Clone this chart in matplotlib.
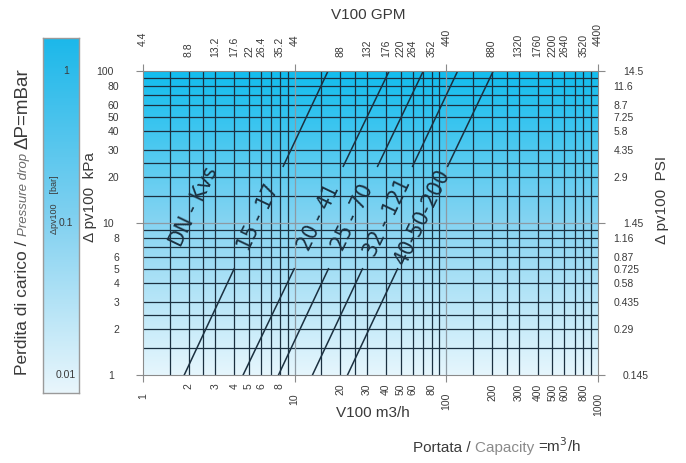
import numpy as np
import matplotlib.pyplot as plt
from matplotlib.colors import LinearSegmentedColormap

plt.rcParams['font.family'] = ['Liberation Sans', 'DejaVu Sans']

# assi: portata m3/h (basso) e GPM (alto)
portata_m3h = [1, 2, 3, 4, 5, 6, 8, 10, 20, 30, 40, 50, 60, 80, 100,
               200, 300, 400, 500, 600, 800, 1000]
portata_gpm = ['4.4', '8.8', '13.2', '17.6', '22', '26.4', '35.2', '44', '88', '132',
               '176', '220', '264', '352', '440', '880', '1320', '1760', '2200',
               '2640', '3520', '4400']
# perdita di carico kPa (sinistra) e PSI (destra)
dp_kpa = [1, 2, 3, 4, 5, 6, 8, 10, 20, 30, 40, 50, 60, 80, 100]
dp_psi = ['0.145', '0.29', '0.435', '0.58', '0.725', '0.87', '1.16', '1.45', '2.9',
          '4.35', '5.8', '7.25', '8.7', '11.6', '14.5']
dp_bar = [1, 0.1, 0.01]
bar_labels = ['1', '0.1', '0.01']
grid_steps = [1.5, 2, 2.5, 3, 4, 5, 6, 7, 8, 9]

# rette DN - Kvs (interrotte dove c'e' l'etichetta)
kvs_labels = ['15 - 17', '20 - 41', '25 - 70', '32 - 121', '40-50-200']
q_start = [1.87, 4.57, 7.82, 13.1, 22.3]      # m3/h a 1 kPa
q_gap_lo = [3.99, 9.93, 16.7, 28.0, 47.7]     # m3/h a 5 kPa
q_gap_hi = [8.4, 20.9, 35.2, 59.9, 102]       # m3/h a 23.6 kPa
q_end = [16.6, 42.0, 70.5, 118.8, 204]        # m3/h a 100 kPa
dp_start, dp_gap_lo, dp_gap_hi, dp_end = 1, 5.0, 23.6, 100

W, H = 686, 463
fig = plt.figure(figsize=(W / 100, H / 100), dpi=100)


def px_box(x0, y0, x1, y1):
    return [x0 / W, 1 - y1 / H, (x1 - x0) / W, (y1 - y0) / H]


line_col = '#1b3040'
txt_col = '#3a3a3a'
major = lambda v: v in (1, 10, 100, 1000)
kv_font = dict(fontsize=16, color=line_col, family=['DejaVu Sans'], weight='light',
               stretch='condensed', ha='center', va='center', zorder=3)

# ---- grafico principale
ax = fig.add_axes(px_box(143, 71, 598, 375))
ax.set_xscale('log')
ax.set_yscale('log')
ax.set_xlim(1, 1000)
ax.set_ylim(1, 100)

grad = LinearSegmentedColormap.from_list('g', ['#e6f6fd', '#86d4f2', '#12bdee'])
ax.imshow(np.linspace(0, 1, 256).reshape(-1, 1), cmap=grad, origin='lower',
          extent=[0, 1, 0, 1], transform=ax.transAxes, aspect='auto', zorder=0)

xgrid = [s * 10 ** d for d in range(3) for s in grid_steps]
ygrid = [s * 10 ** d for d in range(2) for s in grid_steps]
for v in xgrid:
    ax.axvline(v, color=line_col, lw=0.9, zorder=1)
for v in ygrid:
    ax.axhline(v, color=line_col, lw=0.9, zorder=1)
for v in [10, 100]:
    ax.axvline(v, color='#8d9aa3', lw=0.9, zorder=1)
ax.axhline(10, color='#8d9aa3', lw=0.9, zorder=1)

for i in range(len(kvs_labels)):
    ax.plot([q_start[i], q_gap_lo[i]], [dp_start, dp_gap_lo], color=line_col, lw=1.1, zorder=2)
    ax.plot([q_gap_hi[i], q_end[i]], [dp_gap_hi, dp_end], color=line_col, lw=1.1, zorder=2)
    p1 = ax.transData.transform((q_start[i], dp_start))
    p2 = ax.transData.transform((q_end[i], dp_end))
    ang = np.degrees(np.arctan2(p2[1] - p1[1], p2[0] - p1[0]))
    ax.text(np.sqrt(q_gap_lo[i] * q_gap_hi[i]), np.sqrt(dp_gap_lo * dp_gap_hi), kvs_labels[i],
            rotation=ang, **kv_font)
ax.text(2.17, 12.7, 'DN - Kvs', rotation=ang, **kv_font)

for s in ax.spines.values():
    s.set_color('#8a8a8a')
    s.set_linewidth(0.8)

# assi basso / sinistra
ax.set_xticks([v for v in portata_m3h if major(v)])
ax.set_xticklabels([str(v) for v in portata_m3h if major(v)], rotation=90)
ax.set_xticks([v for v in portata_m3h if not major(v)], minor=True)
ax.set_xticklabels([str(v) for v in portata_m3h if not major(v)], rotation=90, minor=True)
ax.set_yticks([v for v in dp_kpa if major(v)])
ax.set_yticklabels([str(v) for v in dp_kpa if major(v)])
ax.set_yticks([v for v in dp_kpa if not major(v)], minor=True)
ax.set_yticklabels([str(v) for v in dp_kpa if not major(v)], minor=True)
ax.tick_params(axis='x', which='major', length=5, color='#8a8a8a', pad=8, labelsize=7.5, labelcolor=txt_col)
ax.tick_params(axis='x', which='minor', length=0, pad=6, labelsize=7.5, labelcolor=txt_col)
ax.tick_params(axis='y', which='major', length=5, color='#8a8a8a', pad=16, labelsize=7.5, labelcolor=txt_col)
ax.tick_params(axis='y', which='minor', length=0, pad=17, labelsize=7.5, labelcolor=txt_col)

# asse alto GPM
axt = ax.twiny()
axt.set_xscale('log')
axt.set_xlim(1, 1000)
axt.set_xticks([v for v in portata_m3h if major(v)])
axt.set_xticklabels([g for v, g in zip(portata_m3h, portata_gpm) if major(v)], rotation=90)
axt.set_xticks([v for v in portata_m3h if not major(v)], minor=True)
axt.set_xticklabels([g for v, g in zip(portata_m3h, portata_gpm) if not major(v)], rotation=90, minor=True)
axt.tick_params(which='major', length=5, color='#8a8a8a', pad=13, labelsize=7.5, labelcolor=txt_col)
axt.tick_params(which='minor', length=0, pad=10, labelsize=7.5, labelcolor=txt_col)

# asse destro PSI
axr = ax.twinx()
axr.set_yscale('log')
axr.set_ylim(1, 100)
axr.set_yticks([v for v in dp_kpa if major(v)])
axr.set_yticklabels([p for v, p in zip(dp_kpa, dp_psi) if major(v)])
axr.set_yticks([v for v in dp_kpa if not major(v)], minor=True)
axr.set_yticklabels([p for v, p in zip(dp_kpa, dp_psi) if not major(v)], minor=True)
axr.tick_params(which='major', length=5, color='#8a8a8a', pad=13, labelsize=7.5, labelcolor=txt_col)
axr.tick_params(which='minor', length=0, pad=11, labelsize=7.5, labelcolor=txt_col)
for a in (axt, axr):
    for s in a.spines.values():
        s.set_visible(False)

fig.text(368 / W, 1 - 15 / H, 'V100 GPM', ha='center', va='center', fontsize=11, color=txt_col)
fig.text(373 / W, 1 - 413 / H, 'V100 m3/h', ha='center', va='center', fontsize=11, color=txt_col)
fig.text(90 / W, 1 - 197 / H, 'Δ pv100  kPa', ha='center', va='center', rotation=90,
         fontsize=11, color=txt_col)
fig.text(662 / W, 1 - 200 / H, 'Δ pv100  PSI', ha='center', va='center', rotation=90,
         fontsize=11, color=txt_col)

# ---- barra laterale bar
axb = fig.add_axes(px_box(43, 38, 79, 393))
axb.set_yscale('log')
axb.set_ylim(0.01 * 10 ** (-18 / 152), 10 ** (33 / 152))
axb.set_xlim(0, 1)
grad_b = LinearSegmentedColormap.from_list('b', ['#e9f6fc', '#7fd0f0', '#1cb8ea'])
axb.imshow(np.linspace(0, 1, 256).reshape(-1, 1), cmap=grad_b, origin='lower',
           extent=[0, 1, 0, 1], transform=axb.transAxes, aspect='auto', zorder=0)
for v, lab in zip(dp_bar, bar_labels):
    axb.text(0.64, v, lab, ha='center', va='center', fontsize=7.5, color=txt_col)
axb.text(0.33, 0.53, 'Δpv100    [bar]', transform=axb.transAxes, rotation=90,
         ha='center', va='center', fontsize=6.5, color=txt_col)
axb.set_xticks([])
axb.set_yticks([])
axb.minorticks_off()
for s in axb.spines.values():
    s.set_color('#9a9a9a')
    s.set_linewidth(1)

# ---- testi composti
fig.canvas.draw()
r = fig.canvas.get_renderer()
pieces = [('Perdita di carico / ', 12.5, 'normal', '#3a3a3a'),
          ('Pressure drop ', 9.5, 'italic', '#6a6a6a'),
          ('ΔP=mBar', 13.5, 'normal', '#3a3a3a')]
y = 375
for s, fs, st, c in pieces:
    t = fig.text(27 / W, 1 - y / H, s, rotation=90, rotation_mode='anchor', ha='left',
                 va='baseline', fontsize=fs, style=st, color=c)
    y -= t.get_window_extent(r).height

pieces = [('Portata / ', 11, '#3a3a3a'), ('Capacity ', 11, '#8a8a8a'),
          ('=m$^{3}$/h', 11, '#3a3a3a')]
x = 413
for s, fs, c in pieces:
    t = fig.text(x / W, 1 - 452 / H, s, ha='left', va='baseline', fontsize=fs, color=c)
    x += t.get_window_extent(r).width

fig.savefig('out.png', dpi=100)
